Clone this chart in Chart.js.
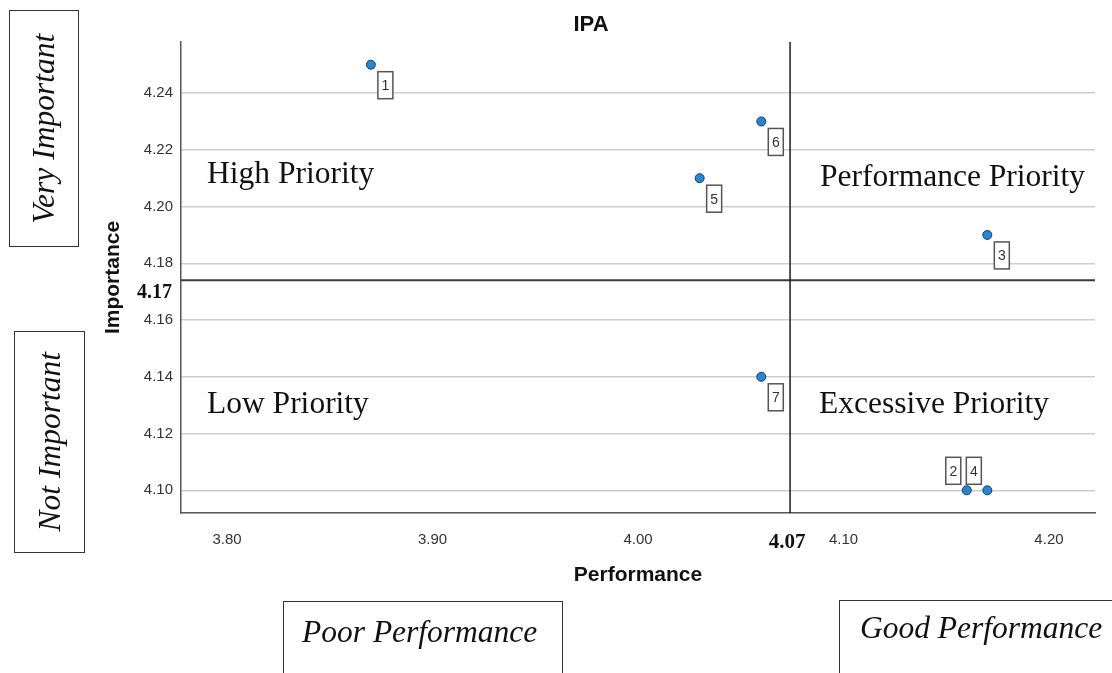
<!DOCTYPE html>
<html>
<head>
<meta charset="utf-8">
<title>IPA</title>
<script src="https://cdn.jsdelivr.net/npm/chart.js@4.4.1/dist/chart.umd.min.js"></script>
<style>
    html, body { margin: 0; padding: 0; background: #fff; overflow: hidden; }
    #wrap { position: relative; width: 1112px; height: 673px; }
    .note { position: absolute; pointer-events: none; white-space: nowrap; color: #111;
            font-family: 'Liberation Serif', 'Times New Roman', serif; font-size: 31.5px; line-height: 31.5px; }
    .box { position: absolute; box-sizing: border-box; border: 1.5px solid #333; pointer-events: none;
           display: flex; align-items: center; justify-content: center; }
    .box span { display: block; white-space: nowrap; transform: rotate(-90deg); color: #111;
                font-family: 'Liberation Serif', 'Times New Roman', serif; font-style: italic; font-size: 31.5px; line-height: 31.5px; }
    #title { position: absolute; left: 591px; top: 13px; transform: translateX(-50%);
             font: bold 22px/22px 'Liberation Sans', Arial, sans-serif; color: #111; }
</style>
</head>
<body>
<div id="wrap">
    <canvas id="ipaChart"></canvas>
    <div id="title">IPA</div>

    <div class="box" style="left:9px;top:10px;width:70px;height:237px;"><span>Very Important</span></div>
    <div class="box" style="left:14px;top:331px;width:71px;height:222px;"><span>Not Important</span></div>
    <div class="box" style="left:283px;top:601px;width:280px;height:120px;border-bottom:none;"></div>
    <div class="box" style="left:839px;top:600px;width:320px;height:120px;border-bottom:none;border-right:none;"></div>

    <div class="note" style="left:302px;top:615.6px;font-style:italic;">Poor Performance</div>
    <div class="note" style="left:860px;top:611.6px;font-style:italic;">Good Performance</div>

    <div class="note" style="left:207px;top:156.6px;">High Priority</div>
    <div class="note" style="left:820px;top:160.3px;">Performance Priority</div>
    <div class="note" style="left:207px;top:386.6px;">Low Priority</div>
    <div class="note" style="left:819px;top:386.6px;">Excessive Priority</div>
</div>

<script>
// attribute ids and their scores
const pointIds = ['1', '2', '3', '4', '5', '6', '7'];
const performance = [3.87, 4.16, 4.17, 4.17, 4.03, 4.06, 4.06];
const importance = [4.25, 4.10, 4.19, 4.10, 4.21, 4.23, 4.14];

// mean lines that split the quadrants
const meanPerformance = 4.074;
const meanImportance = 4.174;

// axes
const xTicks = [3.80, 3.90, 4.00, 4.10, 4.20];
const yTicks = [4.10, 4.12, 4.14, 4.16, 4.18, 4.20, 4.22, 4.24];
const xMin = 3.7776, xMax = 4.2224;
const yMin = 4.092, yMax = 4.258;

// labels 2 and 4 sit above-left of their point, the rest below-right
const flippedLabels = ['2', '4'];

Chart.defaults.font.family = "'Liberation Sans', Arial, sans-serif";

const pointLabels = {
    id: 'pointLabels',
    afterDatasetsDraw(chart) {
        const { ctx, chartArea, scales } = chart;
        const meta = chart.getDatasetMeta(2);
        ctx.save();
        ctx.font = "14px 'Liberation Sans', Arial, sans-serif";
        ctx.textAlign = 'center';
        ctx.textBaseline = 'middle';
        meta.data.forEach((pt, i) => {
            const id = pointIds[i];
            const flip = flippedLabels.includes(id);
            const cx = pt.x + (flip ? -13.5 : 14.5);
            const cy = pt.y + (flip ? -19.5 : 20.5);
            ctx.fillStyle = '#fff';
            ctx.fillRect(cx - 7.5, cy - 13.5, 15, 27);
            ctx.strokeStyle = '#555';
            ctx.lineWidth = 1.5;
            ctx.strokeRect(cx - 7.5, cy - 13.5, 15, 27);
            ctx.fillStyle = '#333';
            ctx.fillText(id, cx, cy + 1);
        });

        // mean values written next to the split lines
        ctx.fillStyle = '#111';
        ctx.textBaseline = 'alphabetic';
        ctx.font = "bold 20px 'Liberation Serif', 'Times New Roman', serif";
        ctx.textAlign = 'right';
        ctx.fillText(meanImportance.toFixed(2), chartArea.left - 9, scales.y.getPixelForValue(meanImportance) + 18);
        ctx.font = "bold 21px 'Liberation Serif', 'Times New Roman', serif";
        ctx.textAlign = 'center';
        ctx.fillText(meanPerformance.toFixed(2), scales.x.getPixelForValue(meanPerformance) - 3, chartArea.bottom + 35);
        ctx.restore();
    }
};

const ctx = document.getElementById('ipaChart').getContext('2d');
new Chart(ctx, {
    type: 'scatter',
    data: {
        datasets: [{
            label: 'mean importance',
            data: [{ x: xMin, y: meanImportance }, { x: xMax, y: meanImportance }],
            showLine: true,
            borderColor: '#3a3a3a',
            borderWidth: 2,
            pointRadius: 0,
            order: 3
        }, {
            label: 'mean performance',
            data: [{ x: meanPerformance, y: yMin }, { x: meanPerformance, y: yMax }],
            showLine: true,
            borderColor: '#1a1a1a',
            borderWidth: 1.5,
            pointRadius: 0,
            order: 2
        }, {
            label: 'attributes',
            data: performance.map((p, i) => ({ x: p, y: importance[i] })),
            backgroundColor: '#1e88dc',
            borderColor: '#203a55',
            borderWidth: 1,
            pointRadius: 4.5,
            order: 1
        }]
    },
    options: {
        responsive: true,
        maintainAspectRatio: false,
        animation: false,
        layout: { padding: { left: 0, right: 17, top: 42, bottom: 0 } },
        plugins: {
            legend: { display: false },
            tooltip: { enabled: false },
            title: { display: false }
        },
        scales: {
            x: {
                type: 'linear',
                min: xMin,
                max: xMax,
                afterBuildTicks: (scale) => { scale.ticks = xTicks.map(v => ({ value: v })); },
                afterFit: (scale) => { scale.height = 160; },
                grid: { display: false },
                border: { display: true, color: '#555', width: 1.5 },
                ticks: {
                    padding: 10,
                    maxRotation: 0,
                    color: '#333',
                    font: { size: 15 },
                    callback: (v) => Number(v).toFixed(2)
                },
                title: {
                    display: true,
                    text: 'Performance',
                    color: '#111',
                    font: { size: 21, weight: 'bold' },
                    padding: { top: 0, bottom: 85 }
                }
            },
            y: {
                type: 'linear',
                min: yMin,
                max: yMax,
                afterBuildTicks: (scale) => { scale.ticks = yTicks.map(v => ({ value: v })); },
                afterFit: (scale) => { scale.width = 181; },
                grid: { color: '#cdcdcd', lineWidth: 1.5, drawTicks: false },
                border: { display: true, color: '#555', width: 1.5 },
                ticks: {
                    padding: 8,
                    color: '#333',
                    font: { size: 15 },
                    callback: (v) => Number(v).toFixed(2)
                },
                title: {
                    display: true,
                    text: 'Importance',
                    color: '#111',
                    font: { size: 21, weight: 'bold' },
                    padding: { top: 101, bottom: 0 }
                }
            }
        }
    },
    plugins: [pointLabels]
});
</script>
</body>
</html>
